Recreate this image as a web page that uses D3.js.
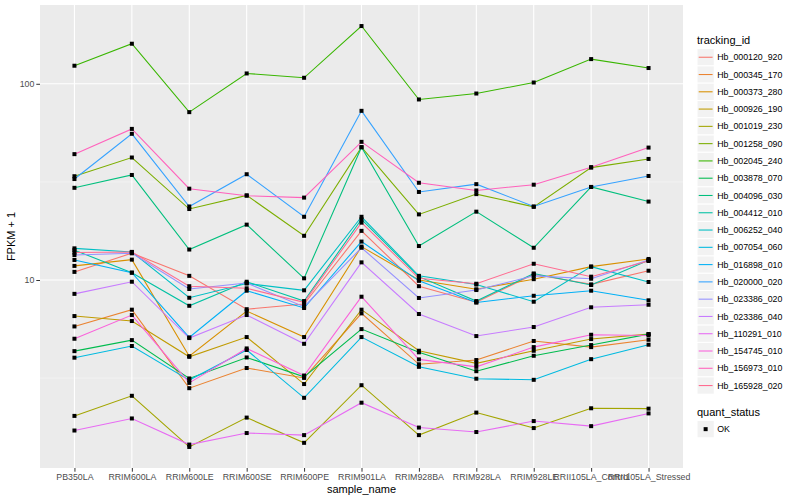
<html>
<head>
<meta charset="utf-8">
<title></title>
<style>
  body { margin: 0; background: white; font-family: "Liberation Sans", Arial, Helvetica, sans-serif; }
  svg { display: block; }
  .tick-lab { font-size: 8.8px; fill: #4D4D4D; }
  .ax-title { font-size: 11px; fill: black; }
  .leg-lab { font-size: 8.8px; fill: black; }
</style>
</head>
<body>
<div id="chart"></div>
<script src="https://cdnjs.cloudflare.com/ajax/libs/d3/7.8.5/d3.min.js"></script>
<script>
// categories on x
var samples = ["PB350LA", "RRIM600LA", "RRIM600LE", "RRIM600SE", "RRIM600PE", "RRIM901LA",
  "RRIM928BA", "RRIM928LA", "RRIM928LE", "RRII105LA_Control", "RRII105LA_Stressed"];

var trackingIds = ["Hb_000120_920", "Hb_000345_170", "Hb_000373_280", "Hb_000926_190", "Hb_001019_230",
  "Hb_001258_090", "Hb_002045_240", "Hb_003878_070", "Hb_004096_030", "Hb_004412_010",
  "Hb_006252_040", "Hb_007054_060", "Hb_016898_010", "Hb_020000_020", "Hb_023386_020",
  "Hb_023386_040", "Hb_110291_010", "Hb_154745_010", "Hb_156973_010", "Hb_165928_020"];

// ggplot hue palette, 20 levels
var idColors = ["#F8766D", "#EA8331", "#D89000", "#C09B00", "#A3A500", "#7CAE00", "#39B600", "#00BB4E",
  "#00BF7D", "#00C1A3", "#00BFC4", "#00BAE0", "#00B0F6", "#35A2FF", "#9590FF", "#C77CFF",
  "#E76BF3", "#FA62DB", "#FF62BC", "#FF6C91"];

// FPKM + 1, one row per tracking id, one value per sample
var fpkm = [
  [11.0, 13.7, 10.5, 7.1, 7.55, 17.8, 9.3, 7.7, 10.7, 9.5, 11.15],
  [5.8, 7.06, 2.81, 3.56, 3.17, 6.76, 3.72, 3.91, 4.89, 4.55, 4.96],
  [11.8, 12.7, 4.09, 6.95, 5.12, 14.8, 10.0, 8.97, 10.1, 11.7, 12.8],
  [6.55, 6.18, 4.06, 5.12, 2.95, 7.06, 4.36, 3.76, 4.36, 5.0, 5.3],
  [2.03, 2.57, 1.41, 1.99, 1.48, 2.91, 1.62, 2.11, 1.76, 2.22, 2.21],
  [33.8, 42.1, 23.0, 27.0, 16.8, 47.5, 21.6, 27.4, 23.6, 37.4, 41.4],
  [123.6, 160, 71.7, 112.9, 107.3, 196.9, 83.2, 89.2, 101.5, 133.6, 120.3],
  [4.34, 4.94, 3.15, 4.03, 3.21, 5.62, 4.28, 3.43, 4.11, 4.66, 5.3],
  [29.5, 34.3, 14.3, 19.15, 10.2, 47.5, 14.9, 22.3, 14.6, 29.8, 25.1],
  [14.2, 10.9, 7.39, 9.8, 7.81, 20.4, 10.4, 7.81, 10.8, 9.43, 12.6],
  [14.5, 13.9, 8.12, 9.6, 8.86, 21.0, 10.5, 9.48, 7.75, 11.7, 9.77],
  [4.02, 4.61, 3.09, 4.40, 2.51, 5.12, 3.61, 3.14, 3.10, 3.95, 4.68],
  [12.65, 10.9, 5.10, 8.82, 7.2, 15.7, 9.9, 7.68, 8.31, 8.82, 7.88],
  [32.7, 55.6, 23.7, 34.6, 21.0, 72.8, 28.1, 30.8, 23.7, 29.8, 33.9],
  [13.4, 13.7, 9.0, 9.65, 7.31, 14.6, 8.1, 8.89, 10.5, 10.15, 12.65],
  [8.5, 9.8, 5.06, 6.63, 4.73, 12.3, 6.71, 5.18, 5.76, 7.26, 7.48],
  [1.71, 1.97, 1.45, 1.66, 1.62, 2.37, 1.77, 1.68, 1.91, 1.80, 2.09],
  [5.02, 6.63, 2.99, 4.48, 3.26, 8.22, 3.94, 3.61, 4.55, 5.26, 5.22],
  [43.8, 58.9, 29.2, 26.9, 26.3, 50.6, 31.3, 28.6, 30.6, 37.6, 47.3],
  [13.8, 13.9, 9.3, 9.07, 7.69, 19.6, 10.2, 9.57, 12.1, 10.4, 12.5]
];

var yMajor = [10, 100];
var yMinor = [Math.sqrt(10), Math.sqrt(1000)];

var W = 800, H = 500;
var panel = {left: 40, right: 683, top: 5, bottom: 468};

var svg = d3.select("#chart").append("svg")
  .attr("width", W).attr("height", H);

var x = d3.scalePoint().domain(samples)
  .range([panel.left, panel.right]).padding(0.6);

// log scale with 5% expansion like ggplot
var allVals = d3.merge(fpkm);
var lo = Math.log10(d3.min(allVals)), hi = Math.log10(d3.max(allVals));
var pad = (hi - lo) * 0.05;
var y = d3.scaleLog().domain([Math.pow(10, lo - pad), Math.pow(10, hi + pad)])
  .range([panel.bottom, panel.top]);

// panel background
svg.append("rect")
  .attr("x", panel.left).attr("y", panel.top)
  .attr("width", panel.right - panel.left).attr("height", panel.bottom - panel.top)
  .attr("fill", "#EBEBEB");

// grid
svg.selectAll(".minor").data(yMinor).enter().append("line")
  .attr("x1", panel.left).attr("x2", panel.right)
  .attr("y1", function(d) { return y(d); }).attr("y2", function(d) { return y(d); })
  .attr("stroke", "#FAFAFA").attr("stroke-width", 0.55);

svg.selectAll(".major-y").data(yMajor).enter().append("line")
  .attr("x1", panel.left).attr("x2", panel.right)
  .attr("y1", function(d) { return y(d); }).attr("y2", function(d) { return y(d); })
  .attr("stroke", "white").attr("stroke-width", 1.1);

svg.selectAll(".major-x").data(samples).enter().append("line")
  .attr("x1", function(d) { return x(d); }).attr("x2", function(d) { return x(d); })
  .attr("y1", panel.top).attr("y2", panel.bottom)
  .attr("stroke", "white").attr("stroke-width", 1.1);

// lines
var line = d3.line()
  .x(function(d, i) { return x(samples[i]); })
  .y(function(d) { return y(d); });

svg.selectAll(".series").data(fpkm).enter().append("path")
  .attr("d", line)
  .attr("fill", "none")
  .attr("stroke", function(d, i) { return idColors[i]; })
  .attr("stroke-width", 1.07);

// points (quant_status OK)
fpkm.forEach(function(row) {
  svg.selectAll(null).data(row).enter().append("rect")
    .attr("x", function(d, i) { return x(samples[i]) - 2; })
    .attr("y", function(d) { return y(d) - 2; })
    .attr("width", 4).attr("height", 4)
    .attr("fill", "black");
});

// axes
var xAxis = d3.axisBottom(x).tickSize(3.7).tickPadding(2);
var gx = svg.append("g").attr("transform", "translate(0," + panel.bottom + ")").call(xAxis);
gx.select(".domain").remove();
gx.selectAll("line").attr("stroke", "#333333");
gx.selectAll("text").attr("class", "tick-lab").attr("font-size", null).attr("font-family", null);

var yAxis = d3.axisLeft(y).tickValues(yMajor).tickFormat(d3.format("d")).tickSize(3.7).tickPadding(2);
var gy = svg.append("g").attr("transform", "translate(" + panel.left + ",0)").call(yAxis);
gy.select(".domain").remove();
gy.selectAll("line").attr("stroke", "#333333");
gy.selectAll("text").attr("class", "tick-lab").attr("font-size", null).attr("font-family", null);

svg.append("text").attr("class", "ax-title")
  .attr("x", (panel.left + panel.right) / 2).attr("y", 493)
  .attr("text-anchor", "middle").text("sample_name");

svg.append("text").attr("class", "ax-title")
  .attr("transform", "translate(15," + ((panel.top + panel.bottom) / 2) + ") rotate(-90)")
  .attr("text-anchor", "middle").text("FPKM + 1");

// legend: tracking_id
var keySize = 17.28, legX = 697, legY = 48.6;
svg.append("text").attr("class", "ax-title")
  .attr("x", legX).attr("y", 44).text("tracking_id");

var leg = svg.selectAll(".leg").data(trackingIds).enter().append("g")
  .attr("transform", function(d, i) { return "translate(" + legX + "," + (legY + i * keySize) + ")"; });
leg.append("rect").attr("width", keySize).attr("height", keySize)
  .attr("fill", "#F2F2F2").attr("stroke", "white").attr("stroke-width", 1);
leg.append("line").attr("x1", 1.7).attr("x2", keySize - 1.7)
  .attr("y1", keySize / 2).attr("y2", keySize / 2)
  .attr("stroke", function(d, i) { return idColors[i]; }).attr("stroke-width", 1.07);
leg.append("text").attr("class", "leg-lab")
  .attr("x", keySize + 3).attr("y", keySize / 2).attr("dy", "0.35em").text(function(d) { return d; });

// legend: quant_status
var qY = 420.5;
svg.append("text").attr("class", "ax-title")
  .attr("x", legX).attr("y", 416).text("quant_status");
var q = svg.append("g").attr("transform", "translate(" + legX + "," + qY + ")");
q.append("rect").attr("width", keySize).attr("height", keySize)
  .attr("fill", "#F2F2F2").attr("stroke", "white");
q.append("rect").attr("x", keySize / 2 - 2).attr("y", keySize / 2 - 2)
  .attr("width", 4).attr("height", 4).attr("fill", "black");
q.append("text").attr("class", "leg-lab")
  .attr("x", keySize + 3).attr("y", keySize / 2).attr("dy", "0.35em").text("OK");
</script>
</body>
</html>
